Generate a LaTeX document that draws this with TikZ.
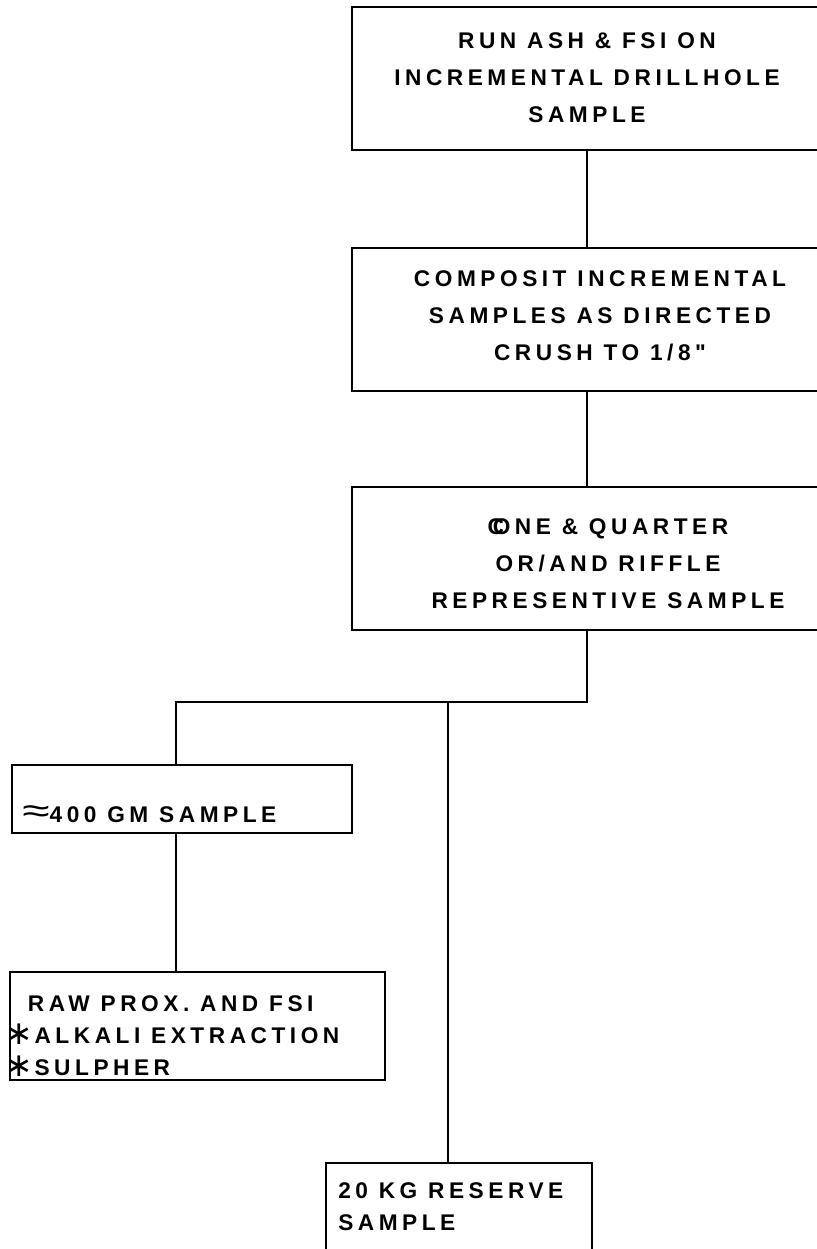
\documentclass[tikz,border=0pt]{standalone}
\usepackage{fontspec}
\setmainfont{Liberation Sans}
\newfontfamily\boxfont{Liberation Sans}[LetterSpace=20]
\newfontfamily\symfont{DejaVu Sans}
\newcommand{\astx}{\makebox[22pt][l]{\raisebox{-1pt}{\symfont\mdseries\scalebox{1.45}{∗}}}}
\begin{document}
\begin{tikzpicture}[x=0.75pt,y=-0.75pt,
  box/.style={draw, line width=1.3pt, rectangle, inner sep=0pt},
  txt/.style={font=\boxfont\bfseries\fontsize{17}{28}\selectfont, align=center, inner sep=0pt},
  ltxt/.style={font=\boxfont\bfseries\fontsize{17}{24}\selectfont, align=left, inner sep=0pt, anchor=north west},
  wire/.style={line width=1.3pt}]
\useasboundingbox (0,0) rectangle (817,1249);
\fill[white] (0,0) rectangle (817,1249);
% boxes
\node[box, minimum width=352.5pt, minimum height=107.25pt] (b1) at (587,78.5) {};
\node[box, minimum width=352.5pt, minimum height=107.25pt] (b2) at (587,319.5) {};
\node[box, minimum width=352.5pt, minimum height=107.25pt] (b3) at (587,558.5) {};
\node[box, minimum width=255pt, minimum height=51pt] (b4) at (182,799) {};
\node[box, minimum width=281.25pt, minimum height=81pt] (b5) at (197.5,1026) {};
\node[box, minimum width=199.5pt, minimum height=80.25pt] (b6) at (459,1216.5) {};
% texts
\node[txt, anchor=north] (t1) at (587,32) {RUN ASH \& FSI ON\\INCREMENTAL DRILLHOLE\\SAMPLE};
\node[txt, anchor=north] (t2) at (600,270) {COMPOSIT INCREMENTAL\\SAMPLES AS DIRECTED\\CRUSH TO 1/8"};
\node[txt, anchor=north] (t3) at (608,518) {C\kern-0.5em ONE \& QUARTER\\OR/AND RIFFLE\\REPRESENTIVE SAMPLE};
\node[ltxt] (t4) at (22,805) {{\mdseries\scalebox{2.2}[1.5]{≈}}400 GM SAMPLE};
\node[ltxt] (t5) at (5,995) {\hspace{17pt}RAW PROX. AND FSI\\\astx ALKALI EXTRACTION\\\astx SULPHER};
\node[ltxt] (t6) at (338,1182) {20 KG RESERVE\\SAMPLE};
% connectors
\coordinate (j) at (587,702);
\coordinate (jl) at (176,702);
\coordinate (jm) at (448,702);
\draw[wire] (b1.south) -- (b2.north);
\draw[wire] (b2.south) -- (b3.north);
\draw[wire] (b3.south) -- (j) -- (jl) -- (jl |- b4.north);
\draw[wire] (jm) -- (jm |- b6.north);
\draw[wire] (jl |- b4.south) -- (jl |- b5.north);
\end{tikzpicture}
\end{document}
